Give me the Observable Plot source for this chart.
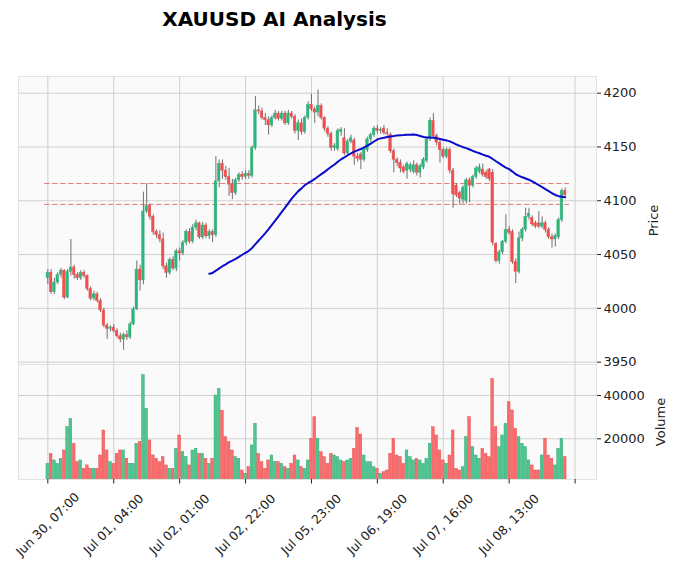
<!DOCTYPE html>
<html><head><meta charset="utf-8">
<script src="https://cdn.jsdelivr.net/npm/d3@7"></script>
<script src="https://cdn.jsdelivr.net/npm/@observablehq/plot@0.6"></script>
<style>
body{margin:0;background:#fff;}
#wrap{position:relative;width:676px;height:573px;font-family:"DejaVu Sans",sans-serif;overflow:hidden;}
#title{position:absolute;left:0;width:549px;top:9px;text-align:center;font-weight:bold;font-size:20px;line-height:20px;color:#000;}
#price{position:absolute;left:0;top:0;}
#vol{position:absolute;left:0;top:364px;}
</style></head>
<body><div id="wrap"><div id="title">XAUUSD AI Analysis</div><div id="price"></div><div id="vol"></div></div>
<script>
const opens = [
4028,4033,4015,4024,4031,4035,4010,4034,4038,4031,
4028,4033,4030,4018,4009,4013,4007,3998,3984,3981,
3982,3979,3974,3971,3975,3973,3985,3999,4036,4026,
4090,4095,4085,4071,4068,4064,4039,4033,4045,4037,
4053,4051,4061,4071,4062,4075,4079,4066,4077,4067,
4071,4068,4118,4134,4128,4122,4115,4107,4119,4124,
4122,4125,4123,4149,4184,4183,4177,4175,4170,4177,
4181,4176,4181,4172,4181,4178,4165,4172,4164,4177,
4189,4185,4182,4188,4177,4167,4162,4149,4148,4164,
4158,4144,4155,4156,4141,4143,4138,4147,4157,4161,
4167,4165,4167,4163,4161,4146,4138,4135,4131,4128,
4129,4127,4133,4126,4131,4137,4157,4174,4160,4154,
4147,4141,4147,4128,4114,4107,4101,4100,4119,4114,
4122,4127,4129,4126,4129,4126,4060,4044,4052,4062,
4073,4071,4043,4034,4065,4073,4085,4084,4079,4079,
4076,4079,4073,4066,4064,4066,4082,4109];
const highs = [
4036,4036,4028,4033,4037,4036,4036,4064,4040,4033,
4035,4035,4031,4020,4016,4015,4009,4000,3986,3984,
3985,3981,3977,3977,3979,3987,4001,4044,4040,4108,
4116,4097,4087,4073,4072,4070,4042,4047,4048,4055,
4056,4063,4073,4074,4078,4082,4080,4080,4079,4073,
4073,4141,4138,4138,4132,4130,4120,4121,4126,4127,
4128,4128,4151,4197,4188,4186,4181,4178,4179,4184,
4183,4183,4183,4184,4183,4180,4175,4176,4179,4192,
4199,4187,4203,4190,4178,4169,4164,4153,4167,4168,
4167,4157,4161,4158,4144,4145,4149,4159,4163,4169,
4170,4168,4170,4167,4163,4148,4140,4138,4133,4136,
4135,4137,4135,4134,4140,4158,4177,4181,4162,4156,
4149,4149,4149,4130,4116,4109,4114,4121,4121,4124,
4132,4134,4134,4128,4130,4129,4061,4054,4063,4087,
4076,4073,4046,4071,4075,4093,4093,4086,4081,4090,
4085,4081,4075,4069,4069,4084,4111,4112];
const lows = [
4022,4013,4013,4022,4028,4008,4009,4030,4027,4026,
4026,4028,4016,4007,4007,4005,3996,3982,3971,3978,
3977,3972,3968,3961,3970,3971,3984,3998,4016,4022,
4088,4082,4068,4065,4061,4036,4028,4031,4035,4034,
4044,4049,4058,4060,4060,4072,4064,4064,4065,4064,
4061,4066,4112,4120,4119,4104,4101,4105,4117,4119,
4120,4120,4121,4147,4180,4175,4170,4161,4168,4175,
4174,4174,4170,4170,4176,4162,4156,4161,4162,4175,
4183,4172,4178,4175,4164,4159,4146,4146,4146,4160,
4142,4142,4153,4133,4136,4129,4136,4145,4154,4159,
4162,4162,4161,4160,4144,4126,4132,4126,4125,4120,
4126,4125,4123,4121,4129,4135,4155,4158,4151,4135,
4139,4139,4125,4093,4103,4096,4097,4097,4098,4112,
4120,4125,4122,4120,4118,4058,4042,4041,4050,4060,
4068,4041,4023,4032,4062,4071,4082,4076,4074,4074,
4074,4070,4064,4056,4057,4064,4080,4104];
const closes = [
4033,4015,4024,4031,4035,4010,4034,4038,4031,4028,
4033,4030,4018,4009,4013,4007,3998,3984,3981,3982,
3979,3974,3971,3975,3973,3985,3999,4036,4026,4090,
4095,4085,4071,4068,4064,4039,4033,4045,4037,4053,
4051,4061,4071,4062,4075,4079,4066,4077,4067,4071,
4068,4118,4134,4128,4122,4115,4107,4119,4124,4122,
4125,4123,4149,4184,4183,4177,4175,4170,4177,4181,
4176,4181,4172,4181,4178,4165,4172,4164,4177,4189,
4185,4182,4188,4177,4167,4162,4149,4151,4165,4166,
4144,4155,4158,4141,4139,4138,4147,4157,4161,4167,
4165,4166,4163,4162,4146,4138,4135,4130,4127,4134,
4133,4133,4126,4132,4138,4157,4174,4160,4154,4147,
4141,4147,4128,4106,4105,4102,4112,4119,4114,4122,
4130,4131,4124,4122,4120,4061,4044,4052,4062,4073,
4070,4043,4034,4065,4073,4085,4088,4078,4076,4076,
4079,4073,4066,4064,4067,4082,4109,4105];
const volumes = [
8460,13070,10000,8460,10770,14610,25380,29220,17690,9230,
10000,6150,7690,6150,6150,6150,12300,23840,14610,9230,
8460,13070,14610,14610,10770,8460,8460,17690,18460,49400,
33840,19230,12300,10770,9230,11540,7690,6150,6150,15380,
21530,13840,11540,7690,14610,15380,13070,13070,10770,8460,
10770,40000,43060,33000,20760,18460,14610,11540,10770,5380,
3850,6920,16920,26920,13070,9230,6150,10000,12300,9230,
9230,8460,6920,6150,8460,12300,10000,6920,6150,10000,
20000,30000,20000,13840,11540,8460,13070,12300,11540,10000,
9230,10000,10770,15380,25000,22000,12300,9230,9230,6920,
6150,3850,4610,5380,13070,20000,12300,11540,8460,14610,
11540,10000,10770,10000,8460,10770,17690,25380,21530,14610,
10000,8460,12300,23840,6150,5380,6920,20760,30000,16150,
12300,10770,15380,13070,11540,47680,25380,16150,21530,26920,
36910,33070,24610,20760,17690,16150,10000,7690,5380,5380,
12300,19990,12300,10770,7690,15380,19990,11540];
const tickLabels = ["Jun 30, 07:00","Jul 01, 04:00","Jul 02, 01:00","Jul 02, 22:00","Jul 05, 23:00","Jul 06, 19:00","Jul 07, 16:00","Jul 08, 13:00",""];
const tickIndex = [0,20,40,60,80,100,120,140,160];
const priceTicks = [3950,4000,4050,4100,4150,4200];
const volumeTicks = [20000,40000];
const levels = [4116,4096.6];
const maPeriod = 50;

const data = opens.map((o,i)=>({i, open:o, high:highs[i], low:lows[i], close:closes[i], volume:volumes[i]}));
const UP="#2fb47c", DOWN="#ef4f4f", VUP="#4dc790", VDOWN="#fd6b6c", GRID="#d0d0d0";
const xDomain=[-8.9,166.5];
const iMin = d3.min(data,d=>d.i), iMax = d3.max(data,d=>d.i);
const fmt = d3.format("d");
const style={fontFamily:"DejaVu Sans",fontSize:"13px",color:"#222",background:"transparent",overflow:"visible"};

const price = Plot.plot({
  width:676, height:364, marginLeft:18, marginRight:80, marginTop:76, marginBottom:0,
  style,
  x:{domain:xDomain, axis:null},
  y:{domain:[3947.8,4215.5]},
  color:{type:"identity"},
  marks:[
    Plot.frame({fill:"#fafafa", stroke:"#e2e2e2"}),
    Plot.gridX(tickIndex,{stroke:GRID, strokeOpacity:1}),
    Plot.gridY(priceTicks,{stroke:GRID, strokeOpacity:1}),
    Plot.ruleY(levels,{y:d=>d, x1:()=>iMin-1, x2:()=>iMax+1.3, stroke:"#d9534f", strokeOpacity:0.75, strokeWidth:1, strokeDasharray:"5.5,2.5"}),
    Plot.ruleX(data,{x:"i", y1:"low", y2:"high", stroke:"#606060", strokeWidth:0.9}),
    Plot.rect(data,{x1:d=>d.i-0.38, x2:d=>d.i+0.38, y1:"open", y2:"close",
      fill:d=>d.close>=d.open?UP:DOWN, stroke:d=>d.close>=d.open?UP:DOWN, strokeWidth:0.5}),
    Plot.lineY(data, Plot.windowY({k:maPeriod, anchor:"end", reduce:"mean", strict:true},{x:"i", y:"close", stroke:"#0a0acd", strokeWidth:2})),
    Plot.axisY(priceTicks,{anchor:"right", tickSize:4, tickPadding:3, fontSize:13, tickFormat:fmt, label:"Price", labelAnchor:"center", labelArrow:"none", labelOffset:61})
  ]
});
document.getElementById("price").appendChild(price);

const vol = Plot.plot({
  width:676, height:209, marginLeft:18, marginRight:80, marginTop:0, marginBottom:94,
  style,
  x:{domain:xDomain, axis:null},
  y:{domain:[1200,54300]},
  color:{type:"identity"},
  marks:[
    Plot.frame({fill:"#fafafa", stroke:"#e2e2e2"}),
    Plot.gridX(tickIndex,{stroke:GRID, strokeOpacity:1}),
    Plot.gridY(volumeTicks,{stroke:GRID, strokeOpacity:1}),
    Plot.rectY(data,{x1:d=>d.i-0.42, x2:d=>d.i+0.42, y:"volume", clip:true,
      fill:d=>d.close>=d.open?VUP:VDOWN, stroke:d=>d.close>=d.open?"#2f9e6e":"#d94a4b", strokeWidth:0.4}),
    Plot.axisY(volumeTicks,{anchor:"right", tickSize:4, tickPadding:3, fontSize:13, tickFormat:fmt, label:"Volume", labelAnchor:"center", labelArrow:"none", labelOffset:68}),
    Plot.axisX(tickIndex,{anchor:"bottom", tickSize:4.5, tickFormat:()=>"", label:null}),
    Plot.text(tickIndex.filter((d,k)=>tickLabels[k]),{x:d=>d, text:d=>tickLabels[tickIndex.indexOf(d)], frameAnchor:"bottom", rotate:-45, textAnchor:"middle", lineAnchor:"middle", dy:45, fontSize:12.5, fill:"#222"})
  ]
});
document.getElementById("vol").appendChild(vol);
</script>
</body></html>
